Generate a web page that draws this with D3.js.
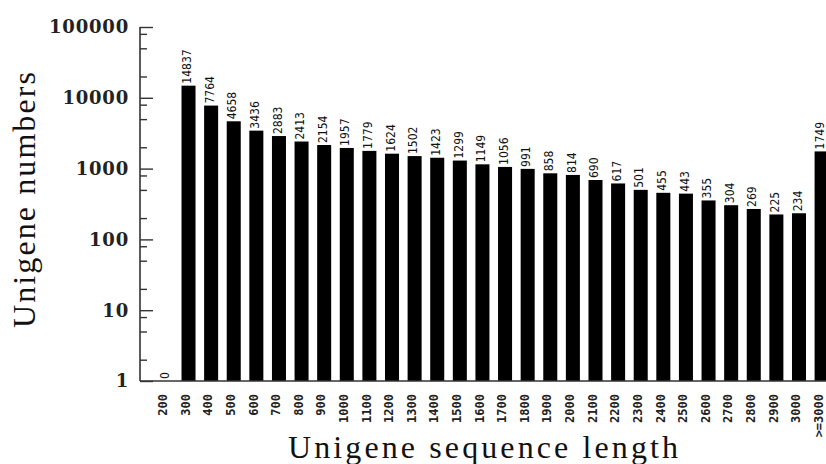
<!DOCTYPE html>
<html><head><meta charset="utf-8">
<script src="https://cdn.jsdelivr.net/npm/d3@7"></script>
<style>body{margin:0;background:#fff}svg{display:block}</style>
</head><body>
<svg id="chart" width="826" height="464"></svg>
<script>
const categories = ["200","300","400","500","600","700","800","900","1000","1100","1200","1300","1400","1500","1600","1700","1800","1900","2000","2100","2200","2300","2400","2500","2600","2700","2800","2900","3000",">=3000"];
const counts = [0,14837,7764,4658,3436,2883,2413,2154,1957,1779,1624,1502,1423,1299,1149,1056,991,858,814,690,617,501,455,443,355,304,269,225,234,1749];
const yTickValues = [1,10,100,1000,10000,100000];
const minorMultipliers = [2,5,8];

const svg = d3.select("#chart");
const axisX = 140, axisBottom = 381, axisTop = 27;

const x = d3.scaleBand().domain(categories).range([154.6, 832.9]).paddingInner(0.38).paddingOuter(0.19);
const y = d3.scaleLog().domain([1, 100000]).range([axisBottom, axisTop]);

const data = categories.map((c,i)=>({c, v: counts[i]}));

// bars
svg.append("g").selectAll("rect").data(data.filter(d=>d.v>0))
  .join("rect")
  .attr("x", d => x(d.c)).attr("width", x.bandwidth())
  .attr("y", d => y(d.v)).attr("height", d => axisBottom - y(d.v))
  .attr("fill", "#000");

// value labels
svg.append("g").selectAll("text").data(data)
  .join("text")
  .attr("transform", d => `translate(${x(d.c) + x.bandwidth()/2 - 1.5},${(d.v>0 ? y(d.v) : axisBottom) - 2}) rotate(-90)`)
  .attr("dy", "0.35em")
  .attr("text-anchor", "start")
  .attr("font-family", "'DejaVu Sans Condensed','DejaVu Sans',sans-serif")
  .attr("font-stretch", "condensed")
  .attr("font-size", 12)
  .attr("fill", "#111")
  .text(d => d.v);

// y axis
const yAxis = d3.axisRight(y).tickValues(yTickValues).tickSize(13).tickFormat("");
const gy = svg.append("g").attr("transform", `translate(${axisX},0)`).call(yAxis);
gy.select(".domain").attr("stroke", "#333").attr("stroke-width", 1.6).attr("d", `M0,${axisTop}V${axisBottom}`);
gy.selectAll(".tick line").attr("stroke", "#333").attr("stroke-width", 1.4);

const minorVals = [];
yTickValues.slice(0,-1).forEach(t => minorMultipliers.forEach(m => minorVals.push(t*m)));
const yMinor = d3.axisRight(y).tickValues(minorVals).tickSize(7).tickFormat("");
const gm = svg.append("g").attr("transform", `translate(${axisX},0)`).call(yMinor);
gm.select(".domain").remove();
gm.selectAll(".tick line").attr("stroke", "#333").attr("stroke-width", 1.4);

// y tick labels
svg.append("g").selectAll("text").data(yTickValues).join("text")
  .attr("x", axisX - 11).attr("y", d => y(d)).attr("dy", "0.36em")
  .attr("text-anchor", "end")
  .attr("font-family", "'DejaVu Serif',serif").attr("font-weight", "bold")
  .attr("font-size", 18).attr("letter-spacing", 0.8).attr("fill", "#222")
  .text(d => d);

// x axis
const xAxis = d3.axisBottom(x).tickSize(0).tickFormat("");
const gx = svg.append("g").attr("transform", `translate(0,${axisBottom})`).call(xAxis);
gx.select(".domain").attr("stroke", "#333").attr("stroke-width", 1.6).attr("d", `M${axisX},0H826`);

// x tick labels
svg.append("g").selectAll("text").data(categories).join("text")
  .attr("transform", d => `translate(${x(d) + x.bandwidth()/2 - 3},${axisBottom + 13}) rotate(-90)`)
  .attr("dy", "0.35em")
  .attr("text-anchor", "end")
  .attr("font-family", "'DejaVu Sans Mono',monospace").attr("font-weight", "bold")
  .attr("font-size", 12).attr("fill", "#222")
  .text(d => d);

// axis titles
svg.append("text")
  .attr("transform", "translate(35,200) rotate(-90)")
  .attr("text-anchor", "middle")
  .attr("font-family", "'Liberation Serif','Times New Roman',serif")
  .attr("font-size", 32).attr("fill", "#111")
  .attr("textLength", 256).attr("lengthAdjust", "spacing")
  .text("Unigene numbers");

svg.append("text")
  .attr("x", 483).attr("y", 458).attr("text-anchor", "middle")
  .attr("font-family", "'Liberation Serif','Times New Roman',serif")
  .attr("font-size", 32).attr("fill", "#111")
  .attr("textLength", 390).attr("lengthAdjust", "spacing")
  .text("Unigene sequence length");
</script>
</body></html>
